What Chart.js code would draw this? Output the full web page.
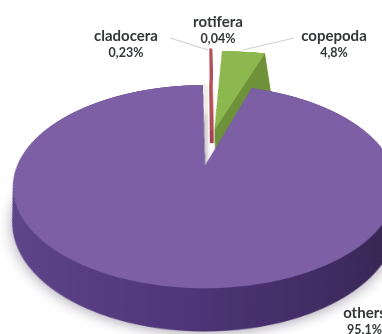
<!DOCTYPE html>
<html>
<head>
<meta charset="utf-8">
<style>
  html, body { margin: 0; padding: 0; background: #fff; overflow: hidden; width: 382px; height: 334px; }
  #stage { position: absolute; left: 0; top: 0; width: 382px; height: 334px; overflow: hidden; }
  #pie { position: absolute; left: 0; top: 0; transform-origin: 0 0; }
  #leaders { position: absolute; left: 0; top: 0; }
  .tag { position: absolute; transform: translateX(-50%); text-align: center; white-space: nowrap;
         font-family: Lato, "Open Sans", sans-serif; font-weight: 700; color: #33363a; }
  .tag .name { font-size: 15px; line-height: 17px; }
  .tag .pct { font-size: 12.5px; line-height: 18px; }
</style>
</head>
<body>
<div id="stage">
  <canvas id="pie" width="660" height="660" style="width:660px;height:660px"></canvas>
  <svg id="leaders" width="382" height="334"></svg>
</div>
<script src="https://cdn.jsdelivr.net/npm/chart.js@4"></script>
<script>
// Plankton share of the sample, clockwise from twelve o'clock.
const categories = ['cladocera', 'rotifera', 'copepoda', 'others'];
const shares = [0.23, 0.04, 4.8, 95.1];
const shareLabels = ['0,23%', '0,04%', '4,8%', '95,1%'];

// Slice appearance.
const topColors = ['#eeeee6', '#b4505a', '#8db84f', '#7d5fa5'];
const wallColors = ['#d8d7d2', '#a9434e', '#6f923a'];
const explode = [0, 420, 420, 0];       // ArcElement applies a quarter of this
const sideDepth = [20, 30, 130, 66];    // wall height in canvas units
const sideShrink = [0, 0, 0, 0.06];     // lower rim is slightly smaller
const faceScaleY = [1, 0.77, 0.815, 1]; // pulled-out slices sit further from the eye
const edgeWidth = [6, 4, 1, 1];
const nudgeX = [0, 8, -4, 0];

// Label anchors on the page.
const tagX = [126, 218, 334, 364.5];
const tagY = [26.5, 12.5, 26.5, 303.5];
const leaderLines = [[170, 38, 208, 50], [294, 38, 243, 50]];

// Tilted-disc projection: the chart canvas is laid flat and viewed in perspective.
const SIZE = 660, RADIUS = 200, C = SIZE / 2;
const hubX = 204.5, hubY = 167;
const persp = -0.192 / RADIUS, scaleX = 0.9375, scaleY = 0.4885;

const canvas = document.getElementById('pie');
const m = [
  scaleX, 0, 0, 0,
  hubX * persp, scaleY + hubY * persp, 0, persp,
  0, 0, 1, 0,
  -scaleX * C + hubX * (1 - persp * C), -scaleY * C + hubY * (1 - persp * C), 0, 1 - persp * C
];
canvas.style.transform = 'matrix3d(' + m.join(',') + ')';

function sideFill(ctx, index) {
  if (index === 3) {
    const g = ctx.createLinearGradient(C - RADIUS, 0, C + RADIUS, 0);
    g.addColorStop(0, '#60478c');
    g.addColorStop(0.45, '#4f3679');
    g.addColorStop(0.8, '#3f2b60');
    g.addColorStop(1, '#35244f');
    return g;
  }
  return wallColors[index];
}

function drawArc(ctx, arc, fill, stroke, width) {
  const saved = arc.options;
  arc.options = { ...saved, backgroundColor: fill, borderColor: stroke, borderWidth: width, borderAlign: 'center' };
  arc.draw(ctx);
  arc.options = saved;
}

// Back slices first; the large slice lies over the walls of the pulled-out ones.
const discPlugin = {
  id: 'disc',
  beforeDatasetsDraw(chart) {
    const ctx = chart.ctx;
    const arcs = chart.getDatasetMeta(0).data;
    [0, 2, 1, 3].forEach((i) => {
      const arc = arcs[i];
      const wall = sideFill(ctx, i);
      for (let d = sideDepth[i]; d >= 0; d -= 1) {
        const k = 1 - sideShrink[i] * d / sideDepth[i];
        ctx.save();
        ctx.translate(C + nudgeX[i], C + d);
        ctx.scale(k, k * faceScaleY[i]);
        ctx.translate(-C, -C);
        if (i === 3 && d === sideDepth[i]) {
          ctx.shadowColor = 'rgba(40,30,60,0.35)';
          ctx.shadowBlur = 26;
          ctx.shadowOffsetY = 6;
        }
        // The last pass, at zero depth, is the lit top face.
        const fill = d === 0 ? topColors[i] : wall;
        drawArc(ctx, arc, fill, fill, edgeWidth[i]);
        ctx.restore();
      }
    });
    return false;
  }
};

new Chart(canvas, {
  type: 'pie',
  data: {
    labels: categories,
    datasets: [{ data: shares, backgroundColor: topColors, offset: explode, borderWidth: 0 }]
  },
  options: {
    responsive: false,
    animation: false,
    devicePixelRatio: 2,
    radius: RADIUS,
    rotation: -0.8,
    layout: { padding: 0 },
    plugins: { legend: { display: false }, tooltip: { enabled: false } }
  },
  plugins: [discPlugin]
});

// Callout text and leader lines.
const stage = document.getElementById('stage');
categories.forEach((name, i) => {
  const tag = document.createElement('div');
  tag.className = 'tag';
  tag.style.left = tagX[i] + 'px';
  tag.style.top = tagY[i] + 'px';
  tag.innerHTML = '<div class="name">' + name + '</div><div class="pct">' + shareLabels[i] + '</div>';
  stage.appendChild(tag);
});
const svg = document.getElementById('leaders');
leaderLines.forEach((l) => {
  const line = document.createElementNS('http://www.w3.org/2000/svg', 'line');
  line.setAttribute('x1', l[0]); line.setAttribute('y1', l[1]);
  line.setAttribute('x2', l[2]); line.setAttribute('y2', l[3]);
  line.setAttribute('stroke', '#cfcfcb'); line.setAttribute('stroke-width', '1.2');
  svg.appendChild(line);
});
</script>
</body>
</html>
